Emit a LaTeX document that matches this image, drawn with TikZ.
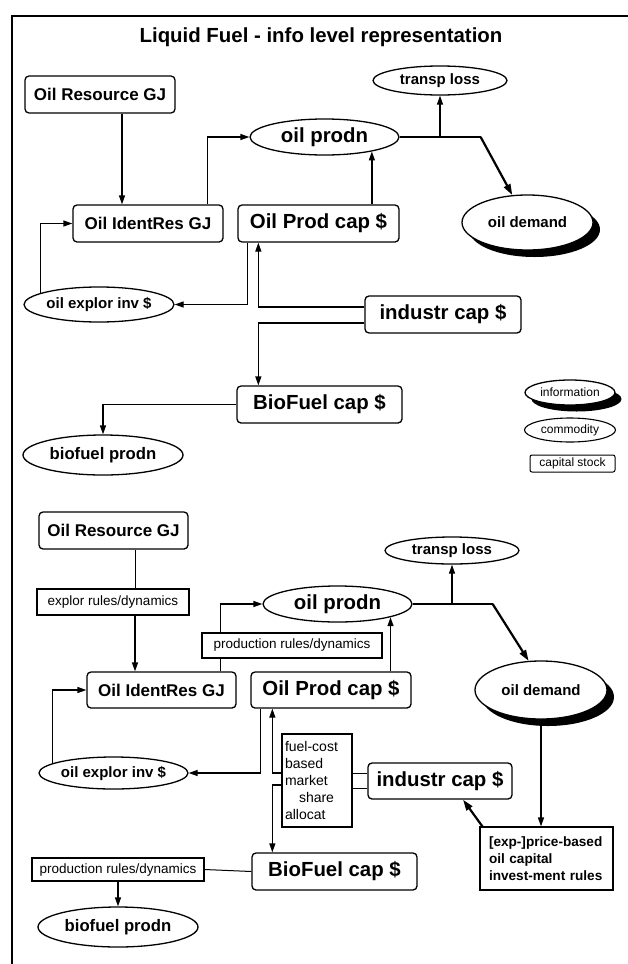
\documentclass[tikz,border=0pt]{standalone}
\usepackage{fontspec}
\setmainfont{Liberation Sans}
\usetikzlibrary{arrows.meta,shapes.geometric,shadows,calc}
\begin{document}
\begin{tikzpicture}[x=1pt,y=-1pt,
  sz/.style 2 args={minimum width=#1pt, minimum height=#2pt},
  fA/.style={font=\bfseries\fontsize{17}{20}\selectfont},
  fB/.style={font=\bfseries\fontsize{20.4}{24}\selectfont},
  fC/.style={font=\bfseries\fontsize{15}{18}\selectfont},
  fD/.style={font=\bfseries\fontsize{16.7}{20}\selectfont},
  fE/.style={font=\fontsize{12}{14}\selectfont},
  fF/.style={font=\fontsize{13.5}{16}\selectfont},
  capbox/.style={draw, rounded corners=4pt, line width=1.3pt, inner sep=0pt, fill=white},
  commod/.style={draw, ellipse, line width=1.3pt, inner sep=0pt, fill=white},
  infor/.style={commod, drop shadow={shadow xshift=#1, shadow yshift=-#1, fill=black, opacity=1}},
  infor/.default=7pt,
  rulebox/.style={draw, line width=1.1pt, inner sep=0pt, fill=white},
  flow/.style={line width=1.3pt, -{Triangle[length=9pt,width=6pt]}},
  heavy/.style={line width=2.2pt, -{Triangle[length=11pt,width=7pt]}},
  link/.style={line width=1pt},
]
\useasboundingbox (0,0) rectangle (628,964);
\draw[line width=1.5pt] (12,964) -- (12,16) -- (628,16);

\node[fB] (title) at (321,37.5) {Liquid Fuel - info level representation};

% ---------- upper diagram ----------
\node[capbox, sz={150}{37}, fA] (res1) at (100,94.5) {Oil Resource GJ};
\node[capbox, sz={150}{37}, fA] (ident1) at (148,223.5) {Oil IdentRes GJ};
\node[capbox, sz={161}{37}, fB] (prodcap1) at (318.5,223.5) {Oil Prod cap \$};
\node[commod, sz={149}{36}, fB] (prodn1) at (324.5,137) {oil prodn};
\node[commod, sz={134}{29}, fC] (transp1) at (440,80.5) {transp loss};
\node[infor, sz={131}{55}, fC] (demand1) at (527.5,222.5) {oil demand};
\node[commod, sz={150}{35}, fC] (explor1) at (99,304.5) {oil explor inv \$};
\node[capbox, sz={156}{37}, fB] (industr1) at (443,314.5) {industr cap \$};
\node[capbox, sz={165}{37}, fB] (bio1) at (319.5,404.5) {BioFuel cap \$};
\node[commod, sz={160}{40}, fD] (bioprod1) at (103,455) {biofuel prodn};

\node[infor=6.5pt, sz={90}{25}, fE] (leginfo) at (570,392.5) {information};
\node[commod, line width=1.1pt, sz={91}{24}, fE] (legcom) at (570,430) {commodity};
\node[capbox, line width=1pt, rounded corners=2pt, sz={85}{17}, fE] (legcap) at (572.5,463.5) {capital stock};

\draw[flow] ([xshift=22pt]res1.south) -- ([xshift=22pt]res1.south |- ident1.north);
\draw[flow] ([xshift=-16pt]ident1.north east) |- (prodn1.west);
\draw[flow] (explor1.169) |- (ident1.west);
\draw[flow] (prodcap1.north -| prodn1.-17) -- (prodn1.-17);
\coordinate (j1) at ($(prodn1.east)+(81,0)$);
\draw[line width=1.3pt] (prodn1.east) -- (j1);
\draw[flow] (prodn1.east -| transp1.south) -- (transp1.south);
\draw[heavy] (j1) -- (demand1.119);
\draw[flow] ([xshift=10pt]prodcap1.south west) |- (explor1.east);
\draw[flow] ([yshift=7.5pt]industr1.west) -| ([xshift=21pt]prodcap1.south west);
\draw[flow] ([yshift=-8.5pt]industr1.west) -| ([xshift=22pt]bio1.north west);
\draw[flow] (bio1.west) -| (bioprod1.north);

% ---------- lower diagram ----------
\node[capbox, sz={149}{37}, fA] (res2) at (113.5,530.5) {Oil Resource GJ};
\node[rulebox, sz={152}{26}, fF] (ruleE) at (113,602) {explor rules/dynamics};
\node[capbox, sz={149}{36}, fA] (ident2) at (161.5,690) {Oil IdentRes GJ};
\node[capbox, sz={160}{36}, fB] (prodcap2) at (331,690) {Oil Prod cap \$};
\node[commod, sz={149}{36}, fB] (prodn2) at (337.5,604) {oil prodn};
\node[rulebox, sz={180}{25}, fF] (ruleP) at (292,645.5) {production rules/dynamics};
\node[commod, sz={134}{27}, fC] (transp2) at (452,550.5) {transp loss};
\node[infor, sz={132}{58}, fC] (demand2) at (541,690) {oil demand};
\node[commod, sz={149}{32}, fC] (explor2) at (113.5,773) {oil explor inv \$};
\node[rulebox, sz={70}{93}, align=left, text width=64pt, font=\fontsize{14}{17}\selectfont] (fuelbox) at (317,780.5) {fuel-cost\\based\\market\\\hspace*{14pt}share\\allocat};
\node[capbox, sz={144}{36}, fB] (industr2) at (440,781) {industr cap \$};
\node[rulebox, sz={133}{63}, align=left, text width=115pt, font=\bfseries\fontsize{13.6}{16.7}\selectfont] (pricebox) at (546.5,858.5) {[exp-]price-based\\oil capital\\invest-ment rules};
\node[capbox, sz={165}{37}, fB] (bio2) at (334.5,871.5) {BioFuel cap \$};
\node[rulebox, sz={172}{23}, fF] (ruleB) at (118,869.5) {production rules/dynamics};
\node[commod, sz={160}{40}, fD] (bioprod2) at (118,927) {biofuel prodn};

\draw[link] ([xshift=21.5pt]res2.south) -- ([xshift=21.5pt]res2.south |- ruleE.north);
\draw[flow] ([xshift=21.5pt]res2.south |- ruleE.south) -- ([xshift=21.5pt]res2.south |- ident2.north);
\draw[link] ([xshift=-16pt]ident2.north east) -- ([xshift=-16pt]ident2.north east |- ruleP.south);
\draw[flow] ([xshift=-16pt]ident2.north east |- ruleP.north) |- (prodn2.west);
\draw[flow] (prodcap2.north -| prodn2.-14) -- (prodn2.-14);
\coordinate (j2) at ($(prodn2.east)+(80,0)$);
\draw[line width=1.3pt] (prodn2.east) -- (j2);
\draw[flow] (prodn2.east -| transp2.south) -- (transp2.south);
\draw[heavy] (j2) -- (demand2.113);
\draw[flow] (explor2.171) |- (ident2.west);
\draw[flow] ([xshift=10pt]prodcap2.south west) |- (explor2.east);
\draw[flow] ([yshift=7.5pt]fuelbox.west) -| ([xshift=22pt]prodcap2.south west);
\draw[flow] ([yshift=-4.5pt]fuelbox.west) -| ([xshift=21pt]bio2.north west);
\draw[link] ([yshift=7.5pt]fuelbox.east) -- ([yshift=7.5pt]fuelbox.east -| industr2.west);
\draw[link] ([yshift=-7.5pt]fuelbox.east) -- ([yshift=-7.5pt]fuelbox.east -| industr2.west);
\draw[flow] (demand2.south) -- (demand2.south |- pricebox.north);
\draw[heavy] ([xshift=3pt]pricebox.north west) -- ([xshift=23pt]industr2.south);
\draw[link] (bio2.west) -- (ruleB.east);
\draw[flow] (ruleB.south) -- (bioprod2.north);
\end{tikzpicture}
\end{document}
